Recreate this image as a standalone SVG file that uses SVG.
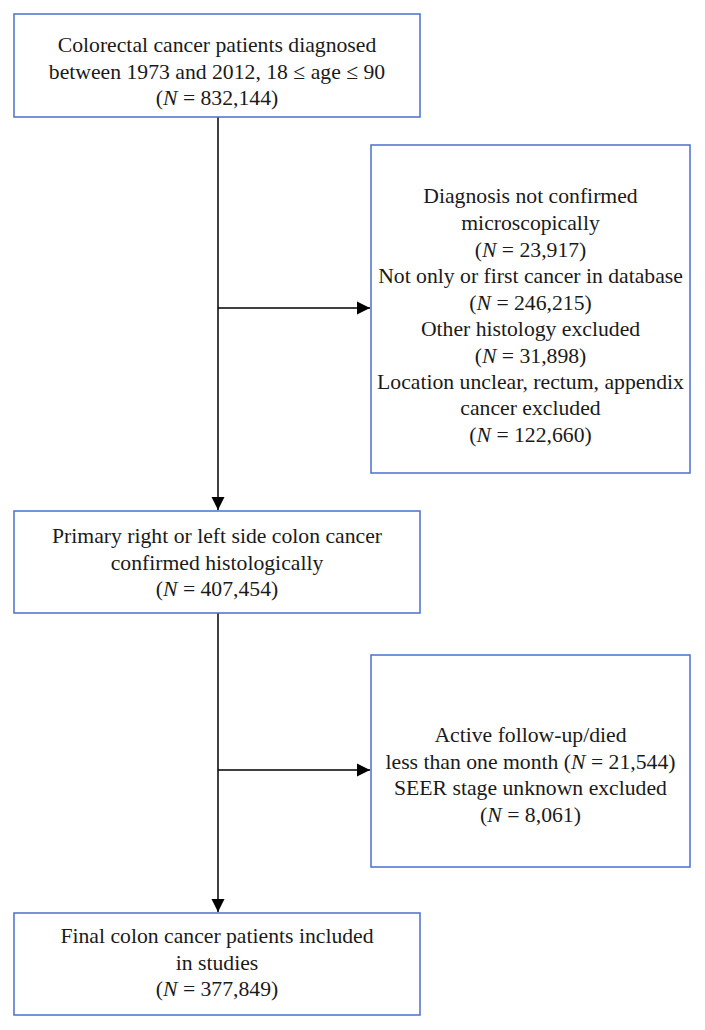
<svg xmlns="http://www.w3.org/2000/svg" width="705" height="1030" viewBox="0 0 705 1030">
<style>
.box{fill:#fff;stroke:#4a6fcf;stroke-width:1.5}
.t{font-family:"Liberation Serif","Times New Roman",serif;font-size:21.7px;fill:#1a1a1a;text-anchor:middle}
.c{stroke:#000;stroke-width:1.5;fill:none}
</style>
<defs>
<marker id="ah" viewBox="0 0 10 10" refX="10" refY="5" markerWidth="9" markerHeight="9" markerUnits="strokeWidth" orient="auto">
<path d="M0,0 L10,5 L0,10 z" fill="#000"/>
</marker>
</defs>
<rect width="705" height="1030" fill="#fff"/>
<g id="connectors">
<line class="c" x1="218" y1="117" x2="218" y2="510" marker-end="url(#ah)"/>
<line class="c" x1="218" y1="308" x2="370" y2="308" marker-end="url(#ah)"/>
<line class="c" x1="218" y1="613" x2="218" y2="912" marker-end="url(#ah)"/>
<line class="c" x1="218" y1="770" x2="370" y2="770" marker-end="url(#ah)"/>
</g>
<g id="n1">
<rect class="box" x="14" y="14" width="406" height="103"/>
<text class="t" x="217" y="52">Colorectal cancer patients diagnosed</text>
<text class="t" x="217" y="79">between 1973 and 2012, 18 ≤ age ≤ 90</text>
<text class="t" x="217" y="105">(<tspan font-style="italic">N</tspan> = 832,144)</text>
</g>
<g id="n2">
<rect class="box" x="371" y="145" width="319" height="328"/>
<text class="t" x="530.5" y="203">Diagnosis not confirmed</text>
<text class="t" x="530.5" y="230">microscopically</text>
<text class="t" x="530.5" y="257">(<tspan font-style="italic">N</tspan> = 23,917)</text>
<text class="t" x="530.5" y="283">Not only or first cancer in database</text>
<text class="t" x="530.5" y="310">(<tspan font-style="italic">N</tspan> = 246,215)</text>
<text class="t" x="530.5" y="336">Other histology excluded</text>
<text class="t" x="530.5" y="363">(<tspan font-style="italic">N</tspan> = 31,898)</text>
<text class="t" x="530.5" y="389">Location unclear, rectum, appendix</text>
<text class="t" x="530.5" y="415">cancer excluded</text>
<text class="t" x="530.5" y="442">(<tspan font-style="italic">N</tspan> = 122,660)</text>
</g>
<g id="n3">
<rect class="box" x="14" y="511" width="406" height="102"/>
<text class="t" x="217" y="543">Primary right or left side colon cancer</text>
<text class="t" x="217" y="570">confirmed histologically</text>
<text class="t" x="217" y="596">(<tspan font-style="italic">N</tspan> = 407,454)</text>
</g>
<g id="n4">
<rect class="box" x="371" y="655" width="319" height="212"/>
<text class="t" x="530.5" y="742">Active follow-up/died</text>
<text class="t" x="530.5" y="769">less than one month (<tspan font-style="italic">N</tspan> = 21,544)</text>
<text class="t" x="530.5" y="795">SEER stage unknown excluded</text>
<text class="t" x="530.5" y="822">(<tspan font-style="italic">N</tspan> = 8,061)</text>
</g>
<g id="n5">
<rect class="box" x="14" y="913" width="406" height="102"/>
<text class="t" x="217" y="943">Final colon cancer patients included</text>
<text class="t" x="217" y="970">in studies</text>
<text class="t" x="217" y="996">(<tspan font-style="italic">N</tspan> = 377,849)</text>
</g>
</svg>
